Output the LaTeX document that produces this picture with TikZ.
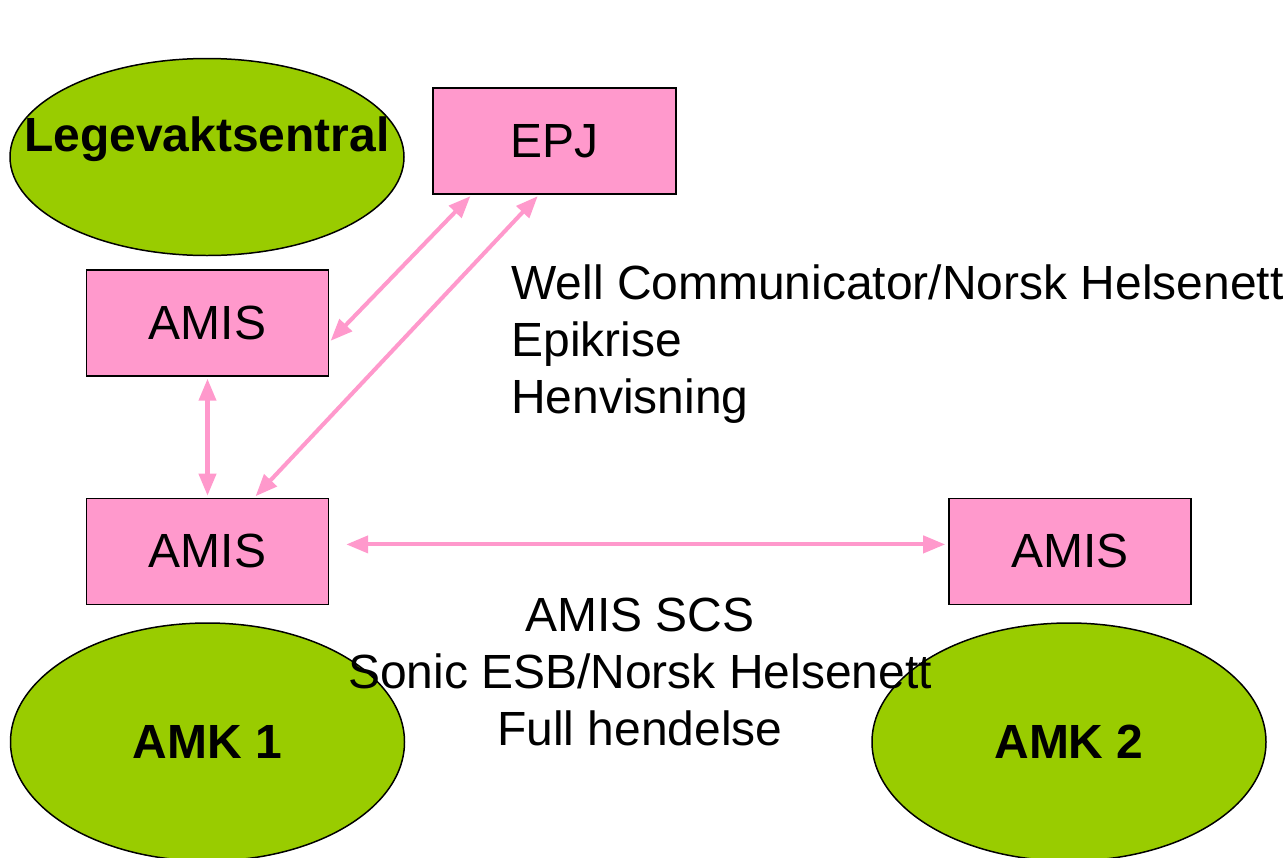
\documentclass[tikz,border=0pt]{standalone}
\usepackage{fontspec}
\setmainfont{Liberation Sans}
\usepackage{xcolor}
\usetikzlibrary{positioning,arrows.meta,shapes.geometric}

\definecolor{amisPink}{HTML}{FF99CC}
\definecolor{centralGreen}{HTML}{99CC00}

\tikzset{
    sysbox/.style={draw,fill=amisPink,line width=0.8pt,minimum width=4.84cm,minimum height=2.12cm,inner sep=0pt,font=\fontsize{27.3}{32}\selectfont},
    central/.style={ellipse,draw,fill=centralGreen,line width=0.85pt,minimum width=7.88cm,minimum height=4.76cm,inner sep=0pt,font=\bfseries\fontsize{27.3}{32}\selectfont},
    link/.style={draw=amisPink,line width=2.3pt,{Triangle[length=0.44cm,width=0.34cm]}-{Triangle[length=0.44cm,width=0.34cm]},shorten <=0.04cm,shorten >=0.04cm}
}

\begin{document}
\begin{tikzpicture}[node distance=1.4cm]
    \useasboundingbox (0,0) rectangle (25.74,-17.14);
    \node[central,minimum height=3.94cm,label={[yshift=0.36cm,font=\bfseries\fontsize{27.3}{32}\selectfont]center:Legevaktsentral}] (lv) at (4.14,-3.14) {};
    \node[sysbox,minimum width=4.86cm] (epj) at (11.09,-2.82) {EPJ};
    \node[sysbox] (amisa) at (4.15,-6.46) {AMIS};
    \node[sysbox,below=2.42cm of amisa] (amisb) {AMIS};
    \node[sysbox,right=12.38cm of amisb] (amisc) {AMIS};
    \node[central,yshift=-0.1cm] (amk1) at (4.15,-14.74) {AMK 1};
    \node[central,yshift=-0.1cm] (amk2) at (21.38,-14.74) {AMK 2};
    \node[anchor=west,align=left,inner sep=0pt,font=\fontsize{27.3}{32.6}\selectfont] (wellnote) at (10.22,-6.88) {Well Communicator/Norsk Helsenett\\Epikrise\\Henvisning};
    \node[align=center,inner sep=0pt,font=\fontsize{27.3}{32.6}\selectfont] (scsnote) at (12.8,-13.44) {AMIS SCS\\Sonic ESB/Norsk Helsenett\\Full hendelse};
    \draw[link] (epj.213) -- (amisa.-9);
    \draw[link] (epj.254) -- (amisb.49);
    \draw[link] (amisa.south) -- (amisb.north);
    \draw[link,shorten <=0.34cm,shorten >=0.06cm] ([yshift=0.14cm]amisb.east) -- ([yshift=0.14cm]amisc.west);
\end{tikzpicture}
\end{document}
